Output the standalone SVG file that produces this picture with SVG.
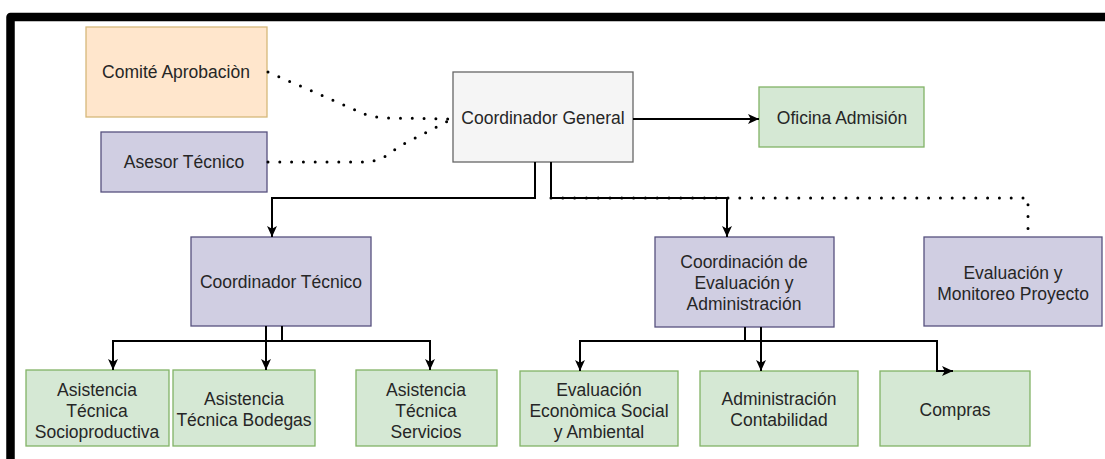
<svg xmlns="http://www.w3.org/2000/svg" width="1105" height="459" viewBox="0 0 1105 459">
<defs>
<style>
.box{stroke-width:1.3}
.orange{fill:#ffe6cc;stroke:#d6b87a}
.purple{fill:#d0cee2;stroke:#56517e}
.green{fill:#d5e8d4;stroke:#82b366}
.gray{fill:#f5f5f5;stroke:#666666}
text{font-family:"Liberation Sans",Arial,sans-serif;font-size:17.5px;fill:#262626;text-anchor:middle}
.solid{fill:none;stroke:#000;stroke-width:2}
.dot{fill:none;stroke:#000;stroke-width:3;stroke-linecap:round;stroke-dasharray:0 11.8}
</style>
<marker id="arr" viewBox="0 0 10 10" refX="10" refY="5" markerWidth="11" markerHeight="11" markerUnits="userSpaceOnUse" orient="auto">
<path d="M0,0.5 L10,5 L0,9.5 L2.5,5 z" fill="#000"/>
</marker>
</defs>
<rect width="1105" height="459" fill="#fff"/>
<path d="M10.5,470 V17 H1120" fill="none" stroke="#000" stroke-width="8.5" stroke-linejoin="round"/>

<g id="comite"><rect class="box orange" x="86" y="27" width="181" height="90"/><text x="176" y="78">Comité Aprobaciòn</text></g>
<g id="asesor"><rect class="box purple" x="101" y="132" width="166" height="60"/><text x="184" y="168">Asesor Técnico</text></g>
<g id="coordinador-general"><rect class="box gray" x="453" y="72" width="180" height="90"/><text x="543" y="124">Coordinador General</text></g>
<g id="oficina"><rect class="box green" x="759" y="87" width="165" height="60"/><text x="842" y="124">Oficina Admisión</text></g>
<g id="coordinador-tecnico"><rect class="box purple" x="191" y="237" width="180" height="89"/><text x="281" y="288">Coordinador Técnico</text></g>
<g id="coordinacion-evaluacion"><rect class="box purple" x="655" y="237" width="179" height="90"/>
<text x="744" y="268">Coordinación de</text><text x="744" y="289">Evaluación y</text><text x="744" y="310">Administración</text></g>
<g id="evaluacion-monitoreo"><rect class="box purple" x="924" y="237" width="178" height="89"/>
<text x="1013" y="279">Evaluación y</text><text x="1013" y="300">Monitoreo Proyecto</text></g>
<g id="asist-socio"><rect class="box green" x="26" y="370" width="143" height="76"/>
<text x="97" y="396">Asistencia</text><text x="97" y="417">Técnica</text><text x="97" y="438">Socioproductiva</text></g>
<g id="asist-bodegas"><rect class="box green" x="173" y="370" width="142" height="76"/>
<text x="244" y="405">Asistencia</text><text x="244" y="426">Técnica Bodegas</text></g>
<g id="asist-servicios"><rect class="box green" x="356" y="370" width="141" height="76"/>
<text x="426" y="396">Asistencia</text><text x="426" y="417">Técnica</text><text x="426" y="438">Servicios</text></g>
<g id="eval-economica"><rect class="box green" x="520" y="371" width="158" height="75"/>
<text x="599" y="396">Evaluación</text><text x="599" y="417">Econòmica Social</text><text x="599" y="438">y Ambiental</text></g>
<g id="administracion"><rect class="box green" x="700" y="371" width="158" height="75"/>
<text x="779" y="405">Administración</text><text x="779" y="426">Contabilidad</text></g>
<g id="compras"><rect class="box green" x="880" y="371" width="150" height="75"/><text x="955" y="416">Compras</text></g>

<g id="connectors">
<path class="dot" d="M268,72 L360,112 Q372,118 390,118 L452,119"/>
<path class="dot" d="M268,162 L368,162 Q384,160 398,147 L452,119"/>
<path class="solid" d="M633,119 H759" marker-end="url(#arr)"/>
<path class="solid" d="M535,162 V198 H272 V237" marker-end="url(#arr)"/>
<path class="solid" d="M551,162 V198 H727 V237" marker-end="url(#arr)"/>
<path class="dot" d="M551,198 H1028 V237"/>
<path class="solid" d="M282,326 V341 H113 V370" marker-end="url(#arr)"/>
<path class="solid" d="M266,326 V370" marker-end="url(#arr)"/>
<path class="solid" d="M282,341 H430 V370" marker-end="url(#arr)"/>
<path class="solid" d="M745,327 V341 H580 V371" marker-end="url(#arr)"/>
<path class="solid" d="M761,327 V371" marker-end="url(#arr)"/>
<path class="solid" d="M745,341 H937 V371 H953" marker-end="url(#arr)"/>
</g>
</svg>
